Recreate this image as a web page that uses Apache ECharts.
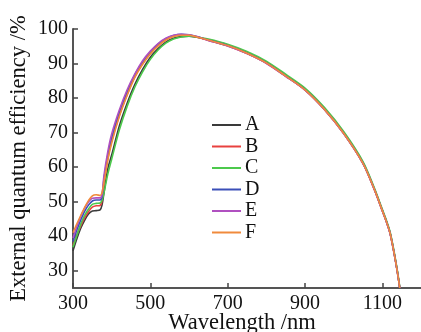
<!DOCTYPE html>
<html>
<head>
<meta charset="utf-8">
<script src="https://cdn.jsdelivr.net/npm/echarts@6/dist/echarts.min.js"></script>
<style>html,body{margin:0;padding:0;background:#fff}#c{width:421px;height:332px}</style>
</head>
<body>
<div id="c"></div>
<script>
const wavelengths = [300,310,320,330,340,350,360,370,375,380,390,400,420,440,460,480,500,520,540,560,580,600,620,650,700,750,800,850,900,950,1000,1050,1080,1100,1110,1120,1130,1140,1145];
const seriesNames = ['A','B','C','D','E','F'];
const valuesA = [35.8,39.3,42.3,44.6,46.4,47.3,47.4,47.6,49,52.5,59.5,63.5,72,78.5,84,88.3,91.8,94.3,96.2,97.3,97.8,97.9,97.6,96.9,95.4,93.2,90.4,86.6,82.6,77,70,61.3,53.5,47.5,44.5,41,35.5,29,25];
const valuesB = [37.3,40.4,43,45.3,47.1,48.4,48.8,48.9,50.2,55.5,62.5,67.5,75,81,86.2,89.9,92.9,95.2,96.9,97.9,98.3,98.2,97.7,96.7,95.1,92.9,90.1,86.3,82.3,76.7,69.7,61,53.3,47.3,44.3,40.8,35.3,28.8,25];
const valuesC = [36.8,40.2,43.5,46,47.9,49.2,49.5,49.6,50.4,52.5,58,62.3,70.8,77.6,83.2,87.6,91.2,93.9,95.9,97.1,97.7,97.9,97.7,97.1,95.6,93.5,90.7,86.9,82.9,77.3,70.3,61.6,53.8,47.8,44.8,41.3,35.8,29.3,25.3];
const valuesD = [38.5,41.8,44.7,47.2,49,50.2,50.5,50.5,51.5,56.5,63.5,68.5,76,81.8,86.8,90.4,93.3,95.6,97.2,98.1,98.5,98.3,97.8,96.8,95.2,93,90.2,86.4,82.4,76.8,69.8,61.1,53.4,47.4,44.4,40.9,35.4,28.9,25];
const valuesE = [39.5,42.8,45.7,48.1,49.9,51,51.1,51.1,52,57.5,64.5,69.6,76.6,82.4,87,90.8,93.6,95.8,97.3,98.2,98.5,98.3,97.8,96.7,95.1,92.9,90.1,86.3,82.3,76.7,69.7,61,53.3,47.3,44.3,40.8,35.3,28.8,25];
const valuesF = [41,43.6,46,48.3,50.3,51.7,52,51.8,52.6,55.5,62,67,74.7,80.8,86,89.8,92.8,95.1,96.8,97.8,98.2,98.2,97.7,96.8,95.2,93,90.2,86.4,82.4,76.8,69.8,61.1,53.4,47.4,44.4,40.9,35.4,28.9,25];
const xTicks = [300,500,700,900,1100];
const yTicks = [30,40,50,60,70,80,90,100];
const colors = ['#3a3a3a','#e8413f','#4cc94c','#3b4fb8','#b050c0','#f08a3c'];

const allValues = [valuesA,valuesB,valuesC,valuesD,valuesE,valuesF];
const font = 'Liberation Serif';
const chart = echarts.init(document.getElementById('c'));
chart.setOption({
  animation: false,
  color: colors,
  grid: {left: 73, right: 0, top: 29, bottom: 44, containLabel: false, outerBoundsMode: 'none'},
  legend: {
    orient: 'vertical', left: 207, top: 110,
    icon: 'rect', itemWidth: 29, itemHeight: 2, itemGap: 1.5,
    textStyle: {fontFamily: font, fontSize: 20, color: '#111', lineHeight: 20, padding: [0,0,0,-1]},
    data: seriesNames
  },
  xAxis: {
    type: 'value', min: 300, max: 1200,
    name: 'Wavelength /nm', nameLocation: 'middle', nameGap: 24, nameMoveOverlap: false,
    nameTextStyle: {fontFamily: font, fontSize: 22.5, color: '#111', padding: [0, 10, 0, 0]},
    axisLine: {lineStyle: {color: '#555', width: 2}},
    axisTick: {inside: true, length: 5, customValues: xTicks, lineStyle: {color: '#444', width: 1.5}},
    axisLabel: {customValues: xTicks, formatter: v => String(v), fontFamily: font, fontSize: 20, color: '#111', margin: 6},
    splitLine: {show: false}
  },
  yAxis: {
    type: 'value', min: 25, max: 100,
    name: 'External quantum efficiency /%', nameLocation: 'middle', nameGap: 42, nameMoveOverlap: false,
    nameTextStyle: {fontFamily: font, fontSize: 22.5, color: '#111'},
    axisLine: {show: true, lineStyle: {color: '#555', width: 2}},
    axisTick: {show: true, inside: true, length: 5, customValues: yTicks, lineStyle: {color: '#444', width: 1.5}},
    axisLabel: {customValues: yTicks, formatter: v => String(v), fontFamily: font, fontSize: 20, color: '#111', margin: 5},
    splitLine: {show: false}
  },
  series: seriesNames.map((n, i) => ({
    name: n, type: 'line', symbol: 'none', smooth: 0.3,
    lineStyle: {width: 1.6, color: colors[i]},
    itemStyle: {color: colors[i]},
    data: wavelengths.map((w, j) => [w, allValues[i][j]])
  }))
});
</script>
</body>
</html>
